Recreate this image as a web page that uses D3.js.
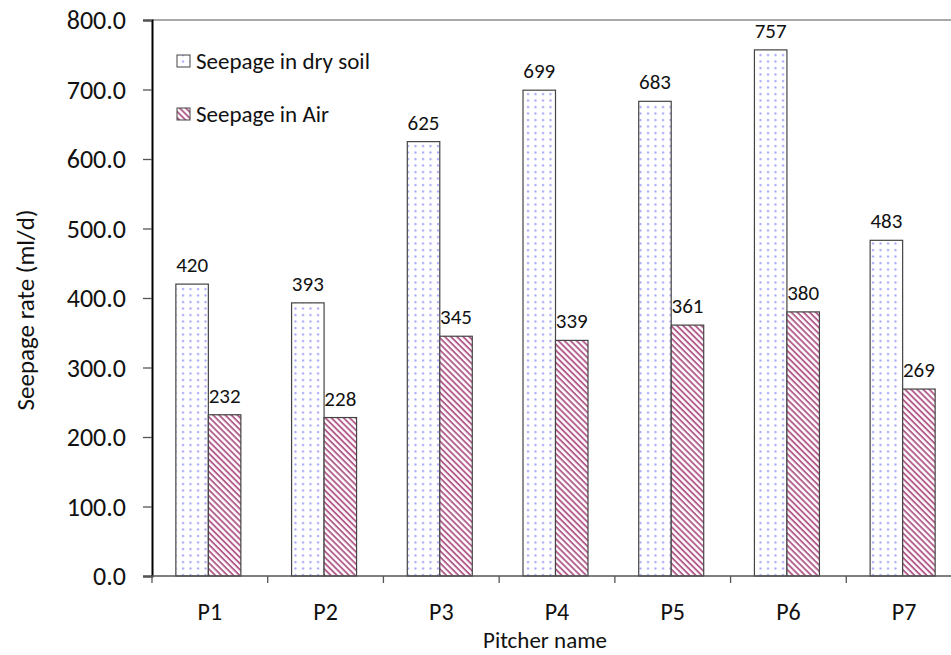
<!DOCTYPE html>
<html>
<head>
<meta charset="UTF-8">
<title>Seepage rate</title>
<style>
  body { margin: 0; background: white; }
  svg { display: block; }
  svg text { font-family: Carlito, Lato, "Open Sans", sans-serif; font-weight: 400; fill: #111; }
</style>
</head>
<body>
<svg></svg>
<script src="https://d3js.org/d3.v7.min.js"></script>
<script>
  let pitchers = ["P1", "P2", "P3", "P4", "P5", "P6", "P7"];
  let drySoil = [420, 393, 625, 699, 683, 757, 483];
  let air = [232, 228, 345, 339, 361, 380, 269];
  let yTicks = [0, 100, 200, 300, 400, 500, 600, 700, 800];
  let seriesNames = ["Seepage in dry soil", "Seepage in Air"];

  let width = 951, height = 655;
  let plotLeft = 152, plotTop = 20, plotBottom = 576, plotRight = 962;

  let svg = d3.select("svg").attr("width", width).attr("height", height);

  // fill patterns
  let defs = svg.append("defs");
  let dots = defs.append("pattern").attr("id", "dots")
    .attr("patternUnits", "userSpaceOnUse").attr("width", 7.5).attr("height", 6.5);
  dots.append("rect").attr("width", 7.5).attr("height", 6.5).attr("fill", "white");
  dots.append("circle").attr("cx", 3).attr("cy", 3).attr("r", 1.1).attr("fill", "#a0a0f8");

  let stripes = defs.append("pattern").attr("id", "stripes")
    .attr("patternUnits", "userSpaceOnUse").attr("width", 4.3).attr("height", 4.3)
    .attr("patternTransform", "rotate(45)");
  stripes.append("rect").attr("width", 4.3).attr("height", 4.3).attr("fill", "white");
  stripes.append("rect").attr("width", 4.3).attr("height", 1.9).attr("fill", "#b45e8e");

  let x = d3.scaleBand().domain(pitchers).range([plotLeft, plotRight]);
  let y = d3.scaleLinear().domain([0, 800]).range([plotBottom, plotTop]);
  let barW = 32.5;

  // top frame line
  svg.append("line").attr("x1", plotLeft).attr("x2", width).attr("y1", plotTop).attr("y2", plotTop)
    .attr("stroke", "#8c8c8c").attr("stroke-width", 1.5);

  let series = [
    { vals: drySoil, fill: "url(#dots)", off: -barW - 1.5 },
    { vals: air, fill: "url(#stripes)", off: -1.5 }
  ];

  series.forEach(s => {
    svg.append("g").selectAll("rect").data(pitchers).enter().append("rect")
      .attr("x", (d, i) => x(d) + x.bandwidth() / 2 + s.off)
      .attr("y", (d, i) => y(s.vals[i]))
      .attr("width", barW)
      .attr("height", (d, i) => y(0) - y(s.vals[i]))
      .attr("fill", s.fill)
      .attr("stroke", "#444").attr("stroke-width", 1.2);
    svg.append("g").selectAll("text").data(pitchers).enter().append("text")
      .attr("x", (d, i) => x(d) + x.bandwidth() / 2 + s.off + barW / 2)
      .attr("y", (d, i) => y(s.vals[i]) - 12)
      .attr("text-anchor", "middle")
      .style("font-size", "21px")
      .text((d, i) => s.vals[i]);
  });

  // y axis
  let yAxis = svg.append("g").attr("transform", "translate(" + plotLeft + ",0)")
    .call(d3.axisLeft(y).tickValues(yTicks).tickFormat(d3.format(".1f")).tickSizeOuter(0).tickSize(9).tickPadding(17));
  yAxis.select(".domain").attr("stroke", "black").attr("stroke-width", 2);
  yAxis.selectAll(".tick line").attr("stroke", "#555").attr("stroke-width", 1.3);
  yAxis.selectAll("text").style("font-size", "26px").attr("dy", "0.34em");

  // x axis
  svg.append("line").attr("x1", plotLeft).attr("x2", width).attr("y1", plotBottom).attr("y2", plotBottom)
    .attr("stroke", "#555").attr("stroke-width", 1.3);
  svg.append("g").selectAll("line").data(pitchers).enter().append("line")
    .attr("x1", d => x(d)).attr("x2", d => x(d))
    .attr("y1", plotBottom).attr("y2", plotBottom + 7)
    .attr("stroke", "#555").attr("stroke-width", 1.3);
  svg.append("g").selectAll("text").data(pitchers).enter().append("text")
    .attr("x", d => x(d) + x.bandwidth() / 2)
    .attr("y", 620)
    .attr("text-anchor", "middle")
    .style("font-size", "24px")
    .text(d => d);

  // axis titles
  svg.append("text").attr("x", 545).attr("y", 648).attr("text-anchor", "middle")
    .style("font-size", "23px").text("Pitcher name");
  svg.append("text").attr("transform", "translate(34,310) rotate(-90)")
    .attr("text-anchor", "middle").style("font-size", "25px").text("Seepage rate (ml/d)");

  // legend
  let legend = svg.append("g");
  [["url(#dots)", 69], ["url(#stripes)", 122]].forEach((l, i) => {
    legend.append("rect").attr("x", 177).attr("y", l[1] - 14).attr("width", 13).attr("height", 12)
      .attr("fill", l[0]).attr("stroke", "#444").attr("stroke-width", 1);
    legend.append("text").attr("x", 196).attr("y", l[1])
      .style("font-size", "23px").text(seriesNames[i]);
  });
</script>
</body>
</html>
